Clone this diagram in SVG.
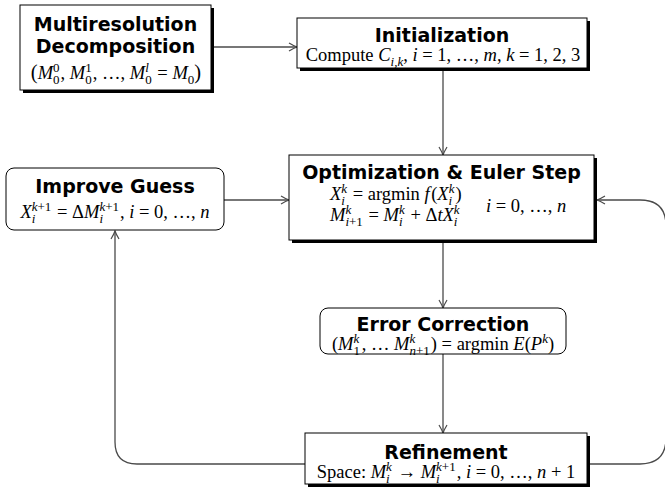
<svg xmlns="http://www.w3.org/2000/svg" width="665" height="498" viewBox="0 0 665 498">
<style>
.bg{fill:#fff}
.box{fill:#fff;stroke:#000;stroke-width:1}
.shadow{fill:#000}
.rbox{fill:#fff;stroke:#000;stroke-width:1}
.t{font-family:"DejaVu Sans",sans-serif;font-weight:bold;font-size:19px;fill:#000;text-anchor:middle}
.m{font-family:"Liberation Serif",serif;font-size:18.5px;fill:#000}
.c{text-anchor:middle}
.i{font-style:italic}
.sp{font-size:13px;baseline-shift:7.5px}
.sb{font-size:13px;baseline-shift:-5px}
.big{font-size:20.5px}
.conn path{fill:none;stroke:#4a4a4a;stroke-width:1.3}
</style>
<defs>
<marker id="ah" markerWidth="12" markerHeight="12" refX="0" refY="0" viewBox="-10 -6 12 12" markerUnits="userSpaceOnUse" orient="auto">
<path d="M-8,-4 Q-3,-1 0,0 Q-3,1 -8,4" fill="none" stroke="#4a4a4a" stroke-width="1.2"/>
</marker>
</defs>
<rect class="bg" x="0" y="0" width="665" height="498"/>

<g class="conn">
<path d="M211,47 H297" marker-end="url(#ah)"/>
<path d="M443,68 V155" marker-end="url(#ah)"/>
<path d="M224,200 H289" marker-end="url(#ah)"/>
<path d="M443,240 V308" marker-end="url(#ah)"/>
<path d="M443,354 V433" marker-end="url(#ah)"/>
<path d="M305,464 H137 Q115,464 115,442 V231" marker-end="url(#ah)"/>
<path d="M587,464 H640 Q666,464 666,438 V226 Q666,200 640,200 H597" marker-end="url(#ah)"/>
</g>

<g id="multiresolution">
<rect class="shadow" x="23" y="8" width="191" height="85"/>
<rect class="box" x="20" y="5" width="191" height="85"/>
<text class="t" x="115.5" y="31">Multiresolution</text>
<text class="t" x="115.5" y="53">Decomposition</text>
<text class="m c" x="116" y="79"><tspan class="big">(</tspan><tspan class="i">M</tspan><tspan class="sp">0</tspan><tspan class="sb" dx="-6.5">0</tspan><tspan dx="1">, </tspan><tspan class="i">M</tspan><tspan class="sp">1</tspan><tspan class="sb" dx="-6.5">0</tspan><tspan dx="1">, …, </tspan><tspan class="i">M</tspan><tspan class="sp i">l</tspan><tspan class="sb" dx="-3.6">0</tspan><tspan dx="1"> = </tspan><tspan class="i">M</tspan><tspan class="sb">0</tspan><tspan class="big">)</tspan></text>
</g>

<g id="initialization">
<rect class="shadow" x="300" y="21" width="290" height="50"/>
<rect class="box" x="297" y="18" width="290" height="50"/>
<text class="t" x="442" y="42">Initialization</text>
<text class="m c" x="443" y="61">Compute <tspan class="i">C</tspan><tspan class="sb i">i,k</tspan>, <tspan class="i">i</tspan> = 1, …, <tspan class="i">m</tspan>, <tspan class="i">k</tspan> = 1, 2, 3</text>
</g>

<g id="optimization">
<rect class="shadow" x="292" y="158" width="305" height="85"/>
<rect class="box" x="289" y="155" width="305" height="85"/>
<text class="t" x="441.5" y="179">Optimization &amp; Euler Step</text>
<text class="m" x="330" y="200"><tspan class="i">X</tspan><tspan class="sp i">k</tspan><tspan class="sb i" dx="-5.8">i</tspan><tspan dx="3.2"> = argmin </tspan><tspan class="i">f</tspan><tspan dx="1.5">(</tspan><tspan class="i">X</tspan><tspan class="sp i">k</tspan><tspan class="sb i" dx="-5.8">i</tspan><tspan dx="3.2">)</tspan></text>
<text class="m" x="330" y="221"><tspan class="i">M</tspan><tspan class="sp i">k</tspan><tspan class="sb" dx="-5.8"><tspan class="i">i</tspan>+1</tspan><tspan dx="1"> = </tspan><tspan class="i">M</tspan><tspan class="sp i">k</tspan><tspan class="sb i" dx="-5.8">i</tspan><tspan dx="3.2"> + Δ</tspan><tspan class="i">tX</tspan><tspan class="sp i">k</tspan><tspan class="sb i" dx="-5.8">i</tspan></text>
<text class="m" x="486" y="212"><tspan class="i">i</tspan> = 0, …, <tspan class="i">n</tspan></text>
</g>

<g id="improve-guess">
<rect class="rbox" x="6" y="168" width="218" height="62" rx="8"/>
<text class="t" x="115" y="193">Improve Guess</text>
<text class="m c" x="115" y="218"><tspan class="i">X</tspan><tspan class="sp"><tspan class="i">k</tspan>+1</tspan><tspan class="sb i" dx="-19.6">i</tspan><tspan dx="17"> = Δ</tspan><tspan class="i">M</tspan><tspan class="sp"><tspan class="i">k</tspan>+1</tspan><tspan class="sb i" dx="-19.6">i</tspan><tspan dx="17">, </tspan><tspan class="i">i</tspan> = 0, …, <tspan class="i">n</tspan></text>
</g>

<g id="error-correction">
<rect class="rbox" x="320" y="308" width="246" height="46" rx="8"/>
<text class="t" x="443" y="331">Error Correction</text>
<text class="m c" x="443" y="350">(<tspan class="i">M</tspan><tspan class="sp i">k</tspan><tspan class="sb" dx="-5.8">1</tspan><tspan dx="1.7">, … </tspan><tspan class="i">M</tspan><tspan class="sp i">k</tspan><tspan class="sb" dx="-5.8"><tspan class="i">n</tspan>+1</tspan><tspan dx="1">) = argmin </tspan><tspan class="i">E</tspan>(<tspan class="i">P</tspan><tspan class="sp i">k</tspan>)</text>
</g>

<g id="refinement">
<rect class="shadow" x="308" y="436" width="282" height="51"/>
<rect class="box" x="305" y="433" width="282" height="51"/>
<text class="t" x="446" y="459">Refinement</text>
<text class="m c" x="446" y="478">Space: <tspan class="i">M</tspan><tspan class="sp i">k</tspan><tspan class="sb i" dx="-5.8">i</tspan><tspan dx="3.2"> → </tspan><tspan class="i">M</tspan><tspan class="sp"><tspan class="i">k</tspan>+1</tspan><tspan class="sb i" dx="-19.6">i</tspan><tspan dx="17">, </tspan><tspan class="i">i</tspan> = 0, …, <tspan class="i">n</tspan> + 1</text>
</g>
</svg>
